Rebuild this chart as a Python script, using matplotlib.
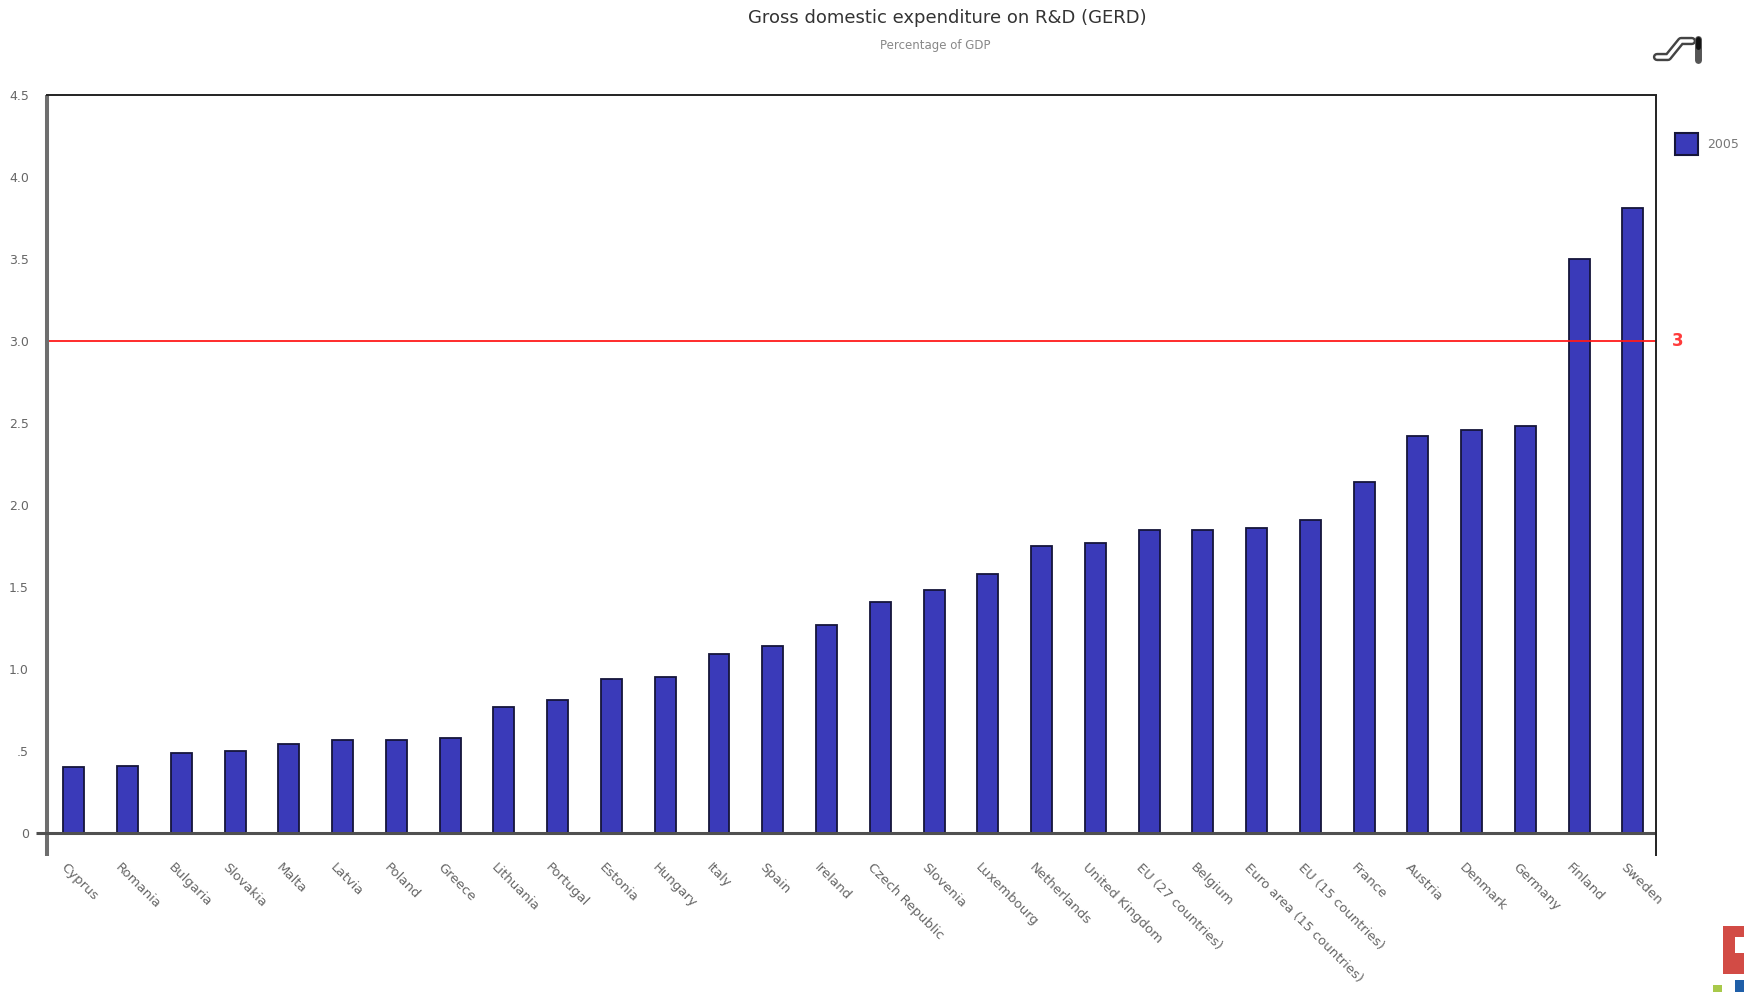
import numpy as np
import matplotlib
matplotlib.use("Agg")
import matplotlib.pyplot as plt
import matplotlib.patches as mpatches
from matplotlib import transforms

# ── data: GERD as % of GDP, 2005 ────────────────────────────────────
countries = [
    "Cyprus", "Romania", "Bulgaria", "Slovakia", "Malta", "Latvia",
    "Poland", "Greece", "Lithuania", "Portugal", "Estonia", "Hungary",
    "Italy", "Spain", "Ireland", "Czech Republic", "Slovenia", "Luxembourg",
    "Netherlands", "United Kingdom", "EU (27 countries)", "Belgium",
    "Euro area (15 countries)", "EU (15 countries)", "France", "Austria",
    "Denmark", "Germany", "Finland", "Sweden",
]
gerd_2005 = [
    0.40, 0.41, 0.49, 0.50, 0.54, 0.57, 0.57, 0.58, 0.77, 0.81,
    0.94, 0.95, 1.09, 1.14, 1.27, 1.41, 1.48, 1.58, 1.75, 1.77,
    1.85, 1.85, 1.86, 1.91, 2.14, 2.42, 2.46, 2.48, 3.50, 3.81,
]
year_label = "2005"
target = 3.0
yticks = [0, 0.5, 1.0, 1.5, 2.0, 2.5, 3.0, 3.5, 4.0, 4.5]
ytick_labels = ["0", ".5", "1.0", "1.5", "2.0", "2.5", "3.0", "3.5", "4.0", "4.5"]

BAR_COLOR = "#3a3ab9"
BAR_EDGE = "#15153a"
TXT_GRAY = "#666666"

W, H = 1744, 992
fig = plt.figure(figsize=(W / 100, H / 100), dpi=100)
fig.patch.set_facecolor("white")

# plot area in pixels: x 47..1656, y 95..833
ax = fig.add_axes([47 / W, 1 - 833 / H, (1656 - 47) / W, (833 - 95) / H])

x = np.arange(len(countries))
ax.bar(x, gerd_2005, width=0.39, color=BAR_COLOR, edgecolor=BAR_EDGE,
       linewidth=1.3, zorder=3)

X0, X1 = -0.5, 29.43
ax.set_xlim(X0, X1)
ax.set_ylim(0, 4.5)

# 3% target line
ax.axhline(target, color="#ff1a1a", linewidth=1.3, zorder=4)
ax.text(1.0099, target, "3", transform=ax.get_yaxis_transform(),
        color="#ff3b3b", fontsize=12, fontweight="bold",
        ha="left", va="center", clip_on=False)

# frame drawn by hand: axis lines run a bit past the plot area
for side in ["left", "bottom", "top", "right"]:
    ax.spines[side].set_visible(False)
ax.plot([X0, X0], [-0.14, 4.5], color="#6e6e6e", linewidth=2.9,
        clip_on=False, zorder=5, solid_capstyle="butt")
ax.plot([X0 - 0.2, X1], [0, 0], color="#505050", linewidth=2.2,
        clip_on=False, zorder=5, solid_capstyle="butt")
ax.plot([X0, X1], [4.5, 4.5], color="#222222", linewidth=1.4,
        clip_on=False, zorder=5)
ax.plot([X1, X1], [-0.14, 4.5], color="#222222", linewidth=1.4,
        clip_on=False, zorder=5, solid_capstyle="butt")

ax.set_yticks(yticks)
ax.set_yticklabels(ytick_labels, color=TXT_GRAY, fontsize=9)
ax.tick_params(axis="y", length=0, pad=13)
ax.set_xticks([])

# rotated category labels
lab_trans = transforms.offset_copy(ax.get_xaxis_transform(), fig=fig,
                                   x=-6, y=-28, units="dots")
for i, name in enumerate(countries):
    ax.text(i, 0, name, transform=lab_trans, rotation=-45,
            rotation_mode="anchor", ha="left", va="top",
            fontsize=9.5, color=TXT_GRAY, clip_on=False)

# titles
fig.text(947 / W, 1 - 18 / H, "Gross domestic expenditure on R&D (GERD)",
         ha="center", va="center", fontsize=13, color="#333333")
fig.text(935 / W, 1 - 46 / H, "Percentage of GDP",
         ha="center", va="center", fontsize=8.5, color="#888888")

# overlay in pixel coordinates for legend and logos
ov = fig.add_axes([0, 0, 1, 1], zorder=10)
ov.set_xlim(0, W)
ov.set_ylim(H, 0)
ov.axis("off")
ov.patch.set_alpha(0)

ov.add_patch(mpatches.Rectangle((1675, 133), 23, 22, facecolor=BAR_COLOR,
                                edgecolor=BAR_EDGE, linewidth=1.5))
ov.text(1707, 145, year_label, fontsize=9, color="#777777",
        ha="left", va="center")

# small ribbon icon top right
ribbon_x = [1657, 1668, 1681, 1692]
ribbon_y = [57, 57, 41, 41]
ov.plot(ribbon_x, ribbon_y, color="#444444", linewidth=6,
        solid_capstyle="round", solid_joinstyle="round")
ov.plot(ribbon_x, ribbon_y, color="white", linewidth=2.5,
        solid_capstyle="round", solid_joinstyle="round")
ov.plot([1698, 1698], [39, 60], color="#555555", linewidth=5,
        solid_capstyle="round")
ov.plot([1698, 1698], [39, 47], color="#111111", linewidth=3.5,
        solid_capstyle="round")

# corner logo (partly cut by the edge)
ov.add_patch(mpatches.Rectangle((1723, 926), 21, 48, facecolor="#d24b45",
                                edgecolor="none"))
ov.add_patch(mpatches.Rectangle((1735, 937), 9, 16, facecolor="white",
                                edgecolor="none"))
ov.add_patch(mpatches.Rectangle((1713, 985), 9, 7, facecolor="#a8c94a",
                                edgecolor="none"))
ov.add_patch(mpatches.Rectangle((1735, 980), 9, 12, facecolor="#1f5fa8",
                                edgecolor="none"))

fig.savefig("out.png", dpi=100, facecolor="white")
